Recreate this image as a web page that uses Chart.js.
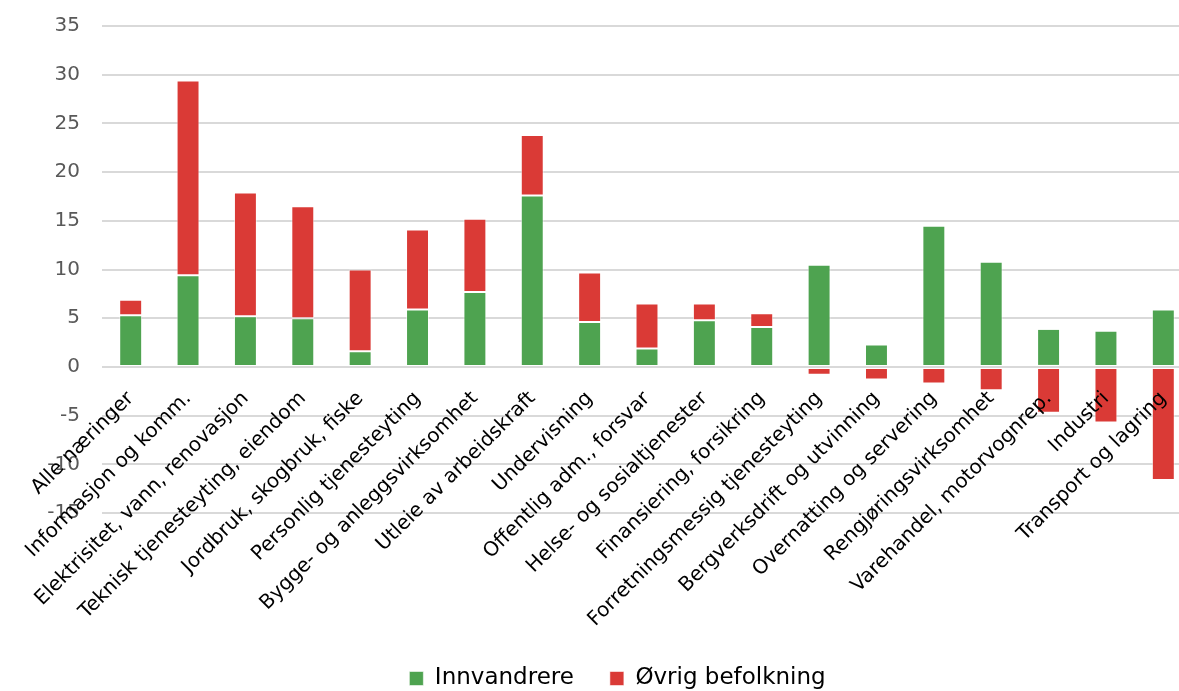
<!DOCTYPE html>
<html lang="no">
<head>
<meta charset="utf-8">
<title>Innvandrere og øvrig befolkning etter næring</title>
<script src="https://cdn.jsdelivr.net/npm/chart.js@4/dist/chart.umd.min.js"></script>
<style>
  html, body { margin: 0; padding: 0; background: #fff; overflow: hidden; }
  #wrap { position: relative; width: 1192px; height: 700px; }
</style>
</head>
<body>
<div id="wrap"><canvas id="chart"></canvas></div>
<script>
// Næringer (kategorier)
const categories = [
  'Alle næringer',
  'Informasjon og komm.',
  'Elektrisitet, vann, renovasjon',
  'Teknisk tjenesteyting, eiendom',
  'Jordbruk, skogbruk, fiske',
  'Personlig tjenesteyting',
  'Bygge- og anleggsvirksomhet',
  'Utleie av arbeidskraft',
  'Undervisning',
  'Offentlig adm., forsvar',
  'Helse- og sosialtjenester',
  'Finansiering, forsikring',
  'Forretningsmessig tjenesteyting',
  'Bergverksdrift og utvinning',
  'Overnatting og servering',
  'Rengjøringsvirksomhet',
  'Varehandel, motorvognrep.',
  'Industri',
  'Transport og lagring'
];

// Bidrag fra innvandrere
const innvandrere = [5.3, 9.4, 5.2, 5.0, 1.6, 5.9, 7.7, 17.6, 4.6, 1.9, 4.8, 4.1, 10.5, 2.3, 14.5, 10.8, 3.9, 3.7, 5.9];

// Bidrag fra øvrig befolkning
const ovrigBefolkning = [1.6, 20.0, 12.7, 11.5, 8.4, 8.2, 7.5, 6.2, 5.1, 4.6, 1.7, 1.4, -0.8, -1.3, -1.7, -2.4, -4.7, -5.7, -11.6];

// Verdiakse
const yMin = -15;
const yMax = 35;
const yStep = 5;

const seriesNames = ['Innvandrere', 'Øvrig befolkning'];
const GREEN = '#4EA350';
const RED = '#DA3A36';
const FONT = 'DejaVu Sans';

new Chart(document.getElementById('chart'), {
  type: 'bar',
  data: {
    labels: categories,
    datasets: [
      {
        label: seriesNames[0],
        data: innvandrere,
        backgroundColor: GREEN,
        borderColor: 'rgba(255,255,255,0.55)',
        borderWidth: 1,
        borderSkipped: false,
        categoryPercentage: 1,
        barPercentage: 0.4
      },
      {
        label: seriesNames[1],
        data: ovrigBefolkning,
        backgroundColor: RED,
        borderColor: 'rgba(255,255,255,0.55)',
        borderWidth: 1,
        borderSkipped: false,
        categoryPercentage: 1,
        barPercentage: 0.4
      }
    ]
  },
  options: {
    responsive: true,
    maintainAspectRatio: false,
    animation: false,
    events: [],
    layout: { padding: { top: 26, left: 43, right: 0, bottom: 0 } },
    scales: {
      x: {
        stacked: true,
        position: { y: 0 },
        grid: { display: false, drawTicks: false },
        border: { display: false },
        ticks: {
          z: 1,
          autoSkip: false,
          minRotation: 45,
          maxRotation: 45,
          padding: 20,
          color: '#000',
          font: { family: FONT, size: 20 }
        },
        afterFit: (scale) => {
          scale.paddingLeft = 0;
          scale.paddingRight = 0;
        }
      },
      // reserves room under the plot for the slanted category names
      xSpace: {
        type: 'category',
        position: 'bottom',
        labels: categories,
        grid: { display: false, drawTicks: false },
        border: { display: false },
        ticks: { display: false },
        afterFit: (scale) => {
          scale.height = 118;
          scale.paddingLeft = 0;
          scale.paddingRight = 0;
        }
      },
      y: {
        stacked: true,
        min: yMin,
        max: yMax,
        grid: { color: '#d9d9d9', lineWidth: 2, drawTicks: false },
        border: { display: false },
        ticks: {
          stepSize: yStep,
          padding: 22,
          color: '#595959',
          font: { family: FONT, size: 20 }
        },
        afterFit: (scale) => {
          scale.width = 59;
          scale.paddingTop = 0;
          scale.paddingBottom = 0;
        }
      }
    },
    plugins: {
      legend: {
        position: 'bottom',
        labels: {
          boxWidth: 14,
          boxHeight: 14,
          padding: 36,
          color: '#000',
          font: { family: FONT, size: 23 }
        }
      },
      tooltip: { enabled: false }
    }
  }
});
</script>
</body>
</html>
